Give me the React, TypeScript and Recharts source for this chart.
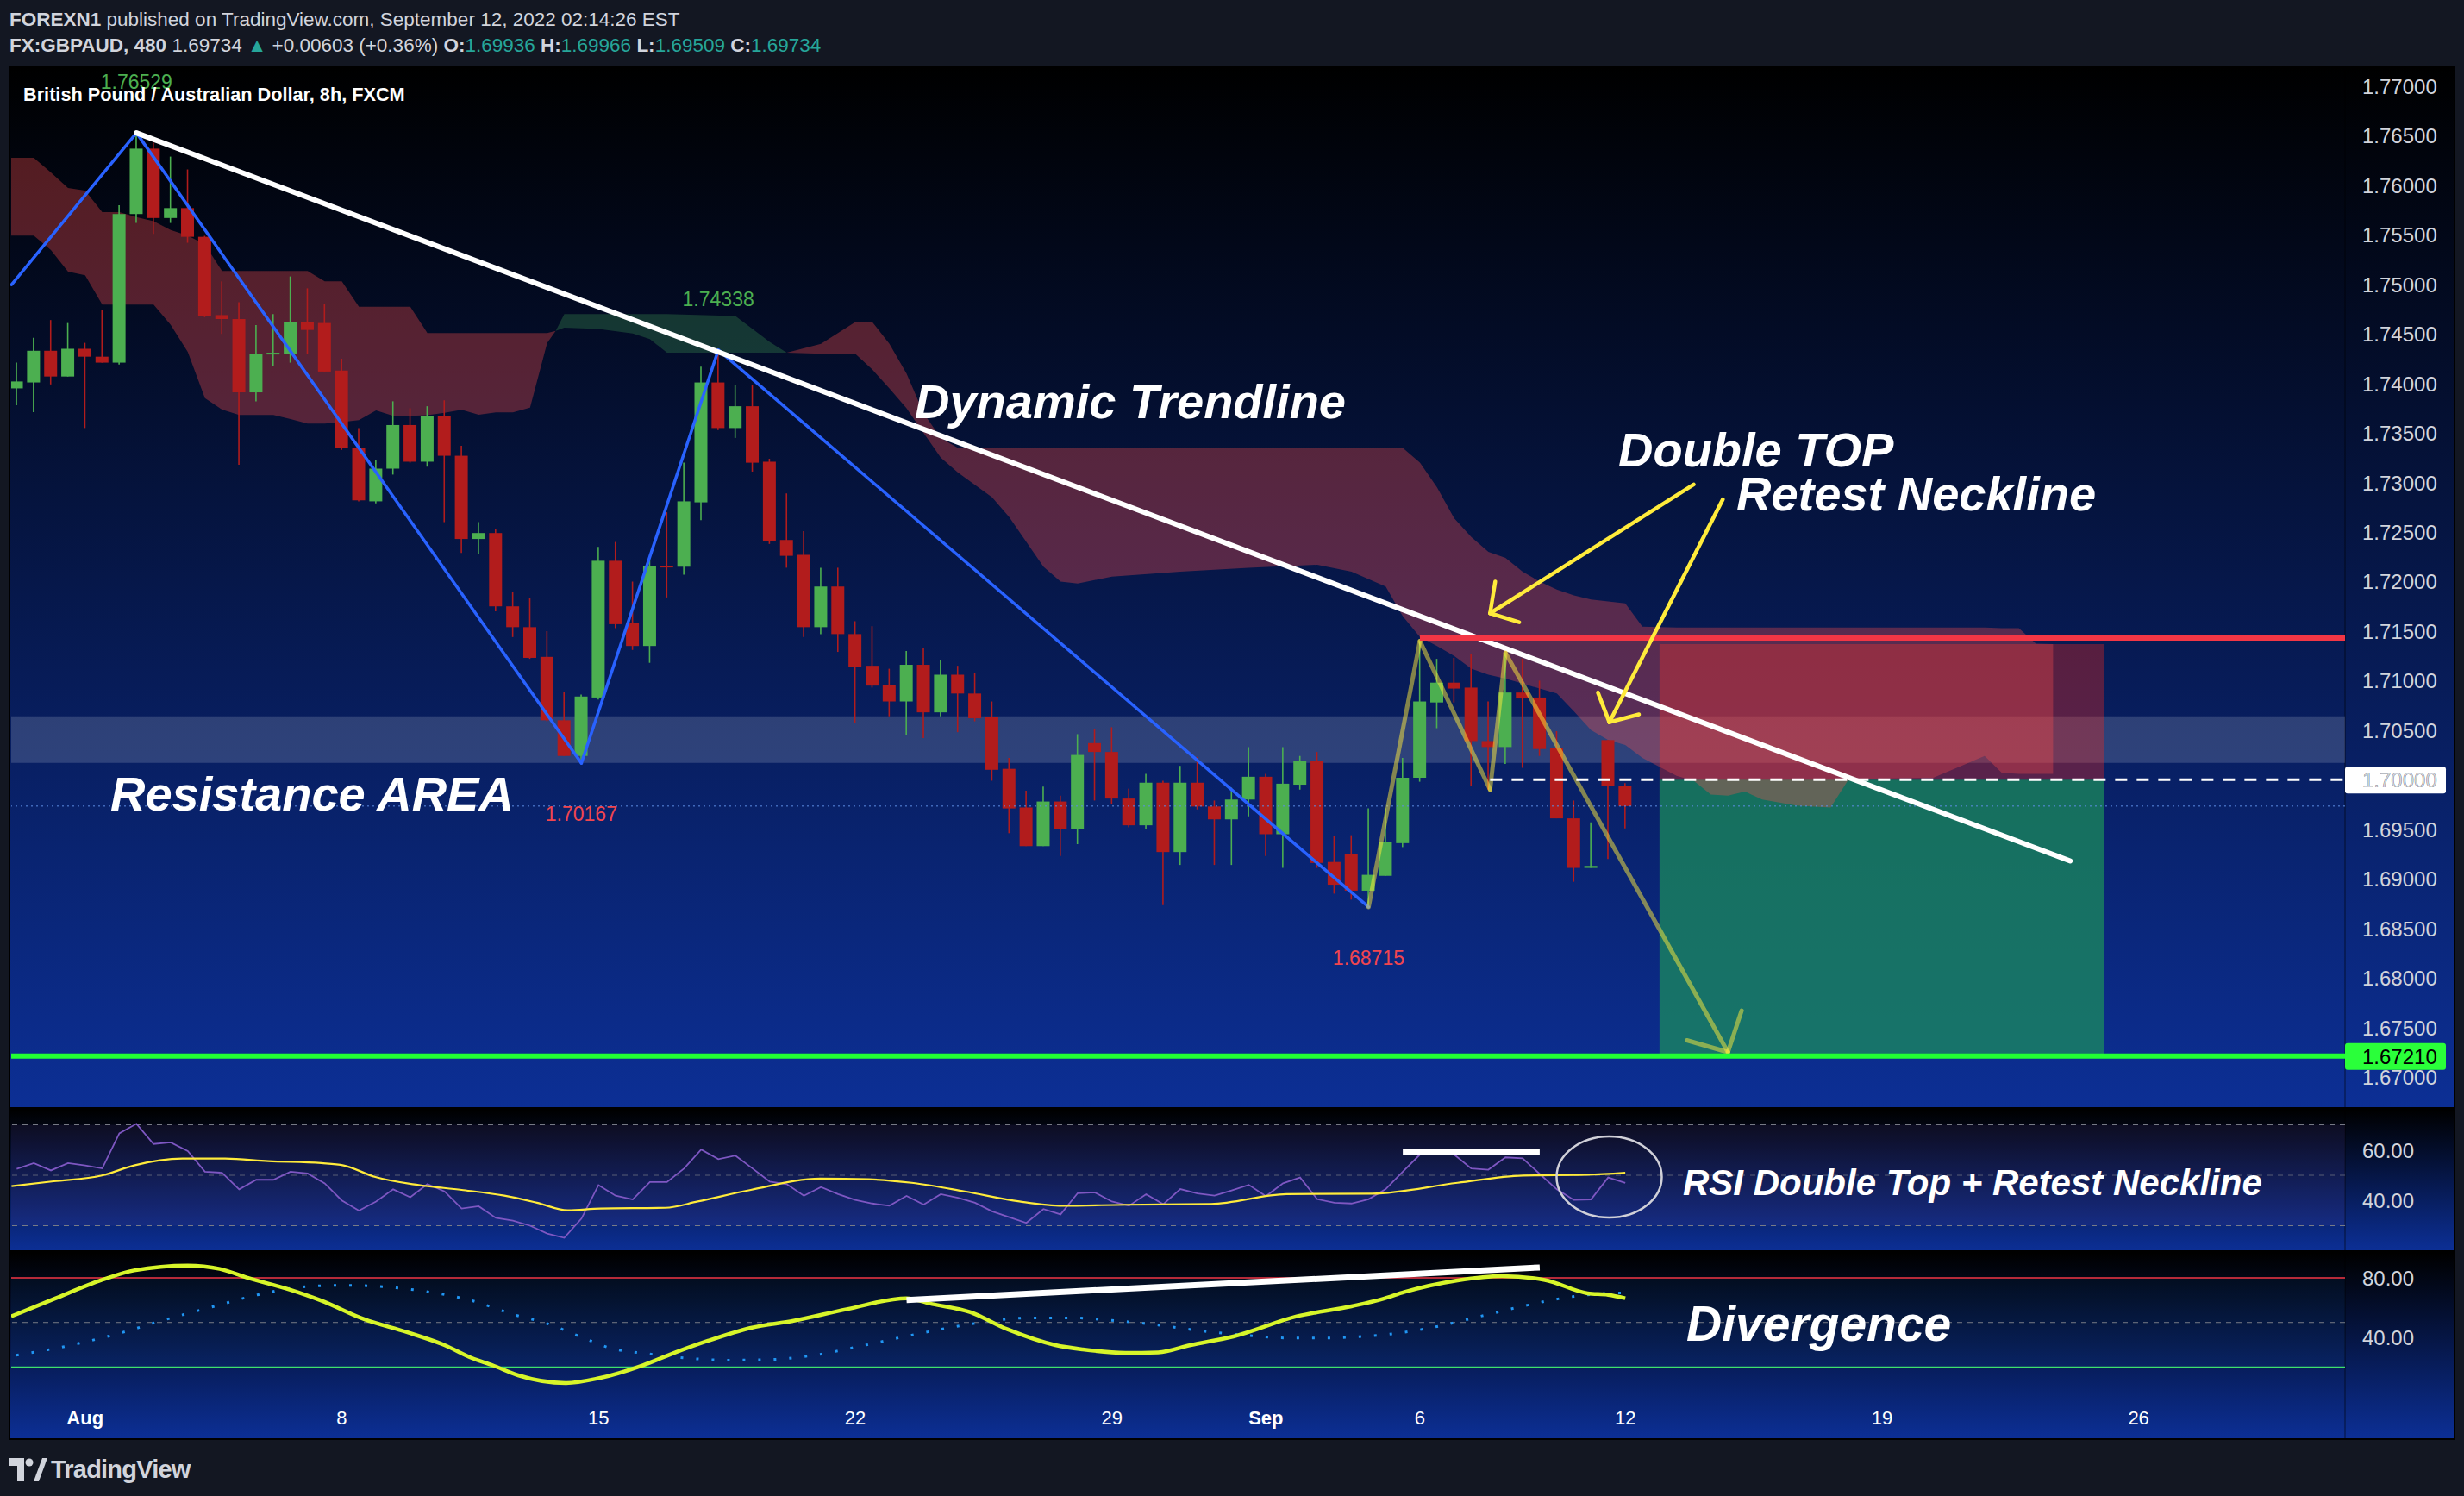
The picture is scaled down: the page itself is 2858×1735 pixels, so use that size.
import React from 'react';
import {
  Area,
  Bar,
  ComposedChart,
  Line,
  ReferenceArea,
  ReferenceDot,
  ReferenceLine,
  XAxis,
  YAxis
} from 'recharts';

// GBPAUD 8h, FXCM. x = bar index (0 = first bar of Aug 1), y = price.
const FIRST_BAR = -4;
const X_MIN = -4.32;
const X_MAX = 132.06;

const opens = [
  1.7395, 1.7401, 1.7433, 1.7407, 1.7435, 1.7427, 1.7421, 1.7571, 1.7637, 1.7567,
  1.7577, 1.7548, 1.7469, 1.7465, 1.7391, 1.743, 1.743, 1.7462, 1.7461, 1.7413,
  1.7335, 1.7281, 1.7314, 1.7358, 1.7321, 1.7367, 1.7327, 1.7243, 1.7249, 1.7175,
  1.7154, 1.7124, 1.706, 1.7024, 1.7083, 1.7221, 1.7158, 1.7135, 1.7216, 1.7215,
  1.728, 1.7401, 1.7355, 1.7377, 1.7321, 1.7242, 1.7227, 1.7154, 1.7195, 1.7147,
  1.7115, 1.7096, 1.7079, 1.7116, 1.7068, 1.7106, 1.7087, 1.7063, 1.7011, 1.6972,
  1.6933, 1.6978, 1.695, 1.7037, 1.7028, 1.6981, 1.6954, 1.6997, 1.6927, 1.6997,
  1.6973, 1.696, 1.698, 1.7003, 1.6945, 1.6995, 1.7019, 1.6917, 1.6925, 1.6888,
  1.6903, 1.6936, 1.7002, 1.7078, 1.7098, 1.7093, 1.7039, 1.7033, 1.7088, 1.7083,
  1.7032, 1.6961, 1.6911, 1.704, 1.69936
];
const highs = [
  1.7421, 1.7446, 1.7464, 1.7461, 1.7441, 1.7474, 1.758, 1.76529, 1.7643, 1.7629,
  1.7616, 1.7549, 1.7503, 1.7482, 1.7459, 1.747, 1.7508, 1.7496, 1.748, 1.7425,
  1.7355, 1.7323, 1.7382, 1.7375, 1.7377, 1.7383, 1.7337, 1.726, 1.7253, 1.719,
  1.7183, 1.715, 1.7089, 1.7086, 1.7235, 1.724, 1.72, 1.7222, 1.727, 1.732,
  1.7417, 1.74338, 1.7398, 1.7398, 1.7324, 1.7289, 1.7251, 1.7214, 1.7214, 1.716,
  1.7155, 1.7112, 1.713, 1.7133, 1.7121, 1.7115, 1.7108, 1.7079, 1.7022, 1.6989,
  1.6993, 1.6984, 1.7046, 1.7051, 1.7053, 1.6991, 1.7006, 1.6999, 1.7014, 1.7023,
  1.6979, 1.6992, 1.7033, 1.7006, 1.7033, 1.7024, 1.7028, 1.6943, 1.6944, 1.6971,
  1.6971, 1.7022, 1.714, 1.7122, 1.7123, 1.7127, 1.7079, 1.7128, 1.7122, 1.71,
  1.7049, 1.6979, 1.6957, 1.704, 1.69966
];
const lows = [
  1.7378, 1.7371, 1.7399, 1.7407, 1.7355, 1.7421, 1.7419, 1.7562, 1.7551, 1.7562,
  1.7542, 1.7467, 1.745, 1.7318, 1.7382, 1.7418, 1.7421, 1.743, 1.7411, 1.7333,
  1.7281, 1.7279, 1.7308, 1.732, 1.7316, 1.726, 1.7229, 1.7228, 1.717, 1.7144,
  1.7122, 1.7059, 1.7024, 1.70167, 1.7081, 1.7153, 1.7131, 1.7118, 1.7184, 1.7207,
  1.7262, 1.7353, 1.7345, 1.7311, 1.7238, 1.7214, 1.7144, 1.7147, 1.7129, 1.7057,
  1.7093, 1.7064, 1.7045, 1.7042, 1.7064, 1.7048, 1.7059, 1.6999, 1.6946, 1.6933,
  1.6933, 1.6923, 1.6935, 1.6979, 1.6975, 1.6952, 1.695, 1.68735, 1.6914, 1.697,
  1.6914, 1.6914, 1.6963, 1.6923, 1.6911, 1.699, 1.6911, 1.6885, 1.6879, 1.68715,
  1.6903, 1.6932, 1.6998, 1.7052, 1.7078, 1.6994, 1.699, 1.7016, 1.7012, 1.7024,
  1.6961, 1.6897, 1.6911, 1.692, 1.69509
];
const closes = [
  1.7402, 1.7433, 1.7407, 1.7435, 1.7427, 1.7421, 1.7571, 1.7637, 1.7567, 1.7577,
  1.7548, 1.7468, 1.7465, 1.7391, 1.743, 1.7431, 1.7462, 1.7454, 1.7412, 1.7335,
  1.7282, 1.7314, 1.7358, 1.7321, 1.7367, 1.7327, 1.7243, 1.7249, 1.7175, 1.7154,
  1.7123, 1.706, 1.7024, 1.7084, 1.7221, 1.7157, 1.7135, 1.7216, 1.7215, 1.7281,
  1.7401, 1.7355, 1.7377, 1.732, 1.7241, 1.7226, 1.7154, 1.7195, 1.7147, 1.7114,
  1.7095, 1.7079, 1.7116, 1.7068, 1.7106, 1.7087, 1.7062, 1.701, 1.6971, 1.6933,
  1.6978, 1.695, 1.7025, 1.7028, 1.6981, 1.6954, 1.6997, 1.6927, 1.6997, 1.6973,
  1.696, 1.698, 1.7003, 1.6945, 1.6996, 1.7019, 1.6916, 1.6894, 1.6888, 1.6904,
  1.6937, 1.7002, 1.7079, 1.7098, 1.7092, 1.7039, 1.7033, 1.7088, 1.7082, 1.7031,
  1.6961, 1.6911, 1.6913, 1.6994, 1.69734
];

// Ichimoku cloud: [bar, lower edge, upper edge]
const redCloudA = [
  [-4.32, 1.75492, 1.76278], [-3, 1.75492, 1.76278], [-2, 1.75347, 1.7613], [-1, 1.75129, 1.75973],
  [0, 1.75091, 1.75947], [1, 1.74795, 1.75729], [2, 1.74795, 1.75729], [3, 1.74795, 1.7568],
  [4, 1.74795, 1.75637], [5, 1.74592, 1.75549], [6, 1.74317, 1.75492], [7, 1.73852, 1.75404],
  [8, 1.73736, 1.75135], [9, 1.73681, 1.75135], [11, 1.73681, 1.75135], [12, 1.7364, 1.75135],
  [13, 1.73594, 1.75135], [14, 1.73594, 1.7503], [15, 1.7361, 1.7503], [16, 1.73629, 1.74775],
  [17, 1.73728, 1.74775], [18, 1.73673, 1.74775], [19, 1.73673, 1.74775], [20, 1.7368, 1.74508],
  [21, 1.73704, 1.74508], [22, 1.73735, 1.74508], [23, 1.73685, 1.74508], [24, 1.73708, 1.74508],
  [25, 1.73708, 1.74508], [26, 1.73755, 1.74508], [27, 1.74408, 1.74508], [27.5, 1.7453, 1.7453]
];
const greenCloud = [
  [27.5, 1.7453, 1.7453], [28, 1.74563, 1.747], [30, 1.7455, 1.747], [32, 1.74505, 1.747],
  [33, 1.74447, 1.747], [34, 1.74311, 1.747], [38, 1.74311, 1.7468], [39, 1.74311, 1.7455],
  [40, 1.74311, 1.7442], [41, 1.74311, 1.74311]
];
const redCloudB = [
  [41, 1.74311, 1.74311], [43, 1.743, 1.744], [45, 1.743, 1.7462], [46, 1.7414, 1.7462],
  [47, 1.7395, 1.744], [48, 1.7375, 1.741], [49, 1.735, 1.737], [50, 1.7325, 1.7345],
  [51, 1.731, 1.7335], [53, 1.7285, 1.7335], [54, 1.7265, 1.7335], [55, 1.724, 1.7335],
  [56, 1.7215, 1.7335], [57, 1.72, 1.7335], [58, 1.7198, 1.7335], [60, 1.7205, 1.7335],
  [64, 1.721, 1.7335], [68, 1.7214, 1.7335], [72, 1.7217, 1.7335], [74, 1.721, 1.7335],
  [76, 1.7195, 1.7335], [77, 1.7165, 1.7335], [78, 1.7144, 1.732], [79, 1.7135, 1.7295],
  [80, 1.7125, 1.7264], [81, 1.7112, 1.7245], [82, 1.7106, 1.723], [83, 1.7102, 1.7224],
  [84, 1.7097, 1.721], [85, 1.7092, 1.72], [86, 1.7087, 1.7192], [87, 1.7069, 1.7186],
  [88, 1.705, 1.7182], [89, 1.704, 1.718], [90, 1.7035, 1.7178], [91, 1.7022, 1.71545],
  [93, 1.7004, 1.71536], [94, 1.6999, 1.71536], [95, 1.6985, 1.71536], [96, 1.6984, 1.71536],
  [97, 1.6988, 1.71536], [98, 1.698, 1.71536], [100, 1.6974, 1.71536], [102, 1.6972, 1.71536],
  [103, 1.6999, 1.71536], [104, 1.7001, 1.71536], [108, 1.7002, 1.71536], [111, 1.7024, 1.71536],
  [112, 1.7007, 1.71529], [113, 1.7006, 1.71529], [114, 1.7006, 1.71374], [115, 1.7006, 1.7137]
];

// drawings: [bar, price]
const trendLine = [[3, 1.76529], [116, 1.6918]];
const zigzag = [[-4.3, 1.74998], [3, 1.76529], [29, 1.70167], [37, 1.74338], [75, 1.68715]];
const doubleTopPath = [[75, 1.68715], [78, 1.714], [82.1, 1.699], [83, 1.7128], [96, 1.6725]];
const doubleTopHead = [[93.6, 1.6737], [96, 1.6725], [96.8, 1.6767]];
const arrowTopShaft = [[94, 1.7298], [82.1, 1.7168]];
const arrowTopHead = [[82.4, 1.72], [82.1, 1.7168], [83.8, 1.7159]];
const arrowNeckShaft = [[95.7, 1.7283], [89.07, 1.7058]];
const arrowNeckHead = [[88.4, 1.7088], [89.07, 1.7058], [90.8, 1.7066]];
const pivotLabels = [
  { i: 3, p: 1.76529, text: '1.76529', up: true },
  { i: 37, p: 1.74338, text: '1.74338', up: true },
  { i: 29, p: 1.70167, text: '1.70167', up: false },
  { i: 75, p: 1.68715, text: '1.68715', up: false }
];
const resistanceBand = [1.7017, 1.7064];
const positionBars = [92, 118];
const stopLevel = 1.7143;
const stopBoxTop = 1.7137;
const entryLevel = 1.7;
const targetLevel = 1.6721;
const lastPrice = 1.69734;

const priceTicks = [
  1.67, 1.675, 1.68, 1.685, 1.69, 1.695, 1.7, 1.705, 1.71, 1.715, 1.72,
  1.725, 1.73, 1.735, 1.74, 1.745, 1.75, 1.755, 1.76, 1.765, 1.77
];
const timeTicks = [0, 15, 30, 45, 60, 69, 78, 90, 105, 120];
const timeLabels = ['Aug', '8', '15', '22', '29', 'Sep', '6', '12', '19', '26'];

// RSI(14) per bar + its moving average
const rsiValues = [
  52.5, 54.8, 51.9, 54.8, 53.9, 52.7, 66.6, 70.4, 62.4, 63.0, 59.6, 51.4, 51.0, 44.4, 48.2,
  48.2, 51.4, 50.7, 46.8, 40.0, 36.0, 39.6, 44.4, 41.3, 46.5, 43.6, 36.8, 37.7, 33.1, 32.0,
  30.0, 26.9, 25.2, 32.8, 46.1, 41.9, 40.4, 47.3, 47.3, 52.7, 60.2, 56.4, 57.8, 52.7, 47.5,
  46.5, 41.9, 45.3, 42.5, 40.2, 38.8, 37.9, 41.8, 38.4, 42.5, 41.1, 39.1, 35.7, 33.4, 31.1,
  36.6, 34.5, 42.9, 43.2, 39.6, 37.9, 42.5, 38.5, 44.5, 42.8, 41.9, 44.0, 46.2, 41.7, 46.8,
  49.1, 40.5, 39.1, 38.8, 40.5, 44.5, 51.4, 58.2, 58.4, 58.2, 52.7, 52.2, 57.1, 56.7, 50.5,
  44.4, 40.2, 40.4, 49.1, 47.0
];
const rsiMa = [
  [-4.3, 45.7], [-1.84, 47.6], [0.98, 49.9], [2.86, 53.9], [5.68, 56.6], [8.18, 56.6],
  [10.7, 55.6], [13.8, 54.8], [15.1, 53.9], [16.96, 49.3], [19.5, 46.1], [22.0, 44.2],
  [24.5, 41.9], [26.4, 39.1], [28.2, 36.1], [30.1, 36.8], [33.9, 37.1], [35.8, 39.6],
  [38.9, 44.2], [42.96, 48.7], [45.8, 48.4], [48.3, 47.0], [51.4, 43.6], [54.6, 39.6],
  [57.1, 37.9], [60.8, 38.3], [65.8, 38.6], [70.2, 42.5], [75.2, 42.7], [80.2, 47.0],
  [84.0, 49.9], [87.8, 50.2], [90, 51.0]
];
const rsiTopBar = [[77, 59.1], [85, 59.1]];
const rsiCircle = [89.06, 49.3];

// lower oscillator: main line and dotted signal
const oscMain = [
  [-4.32, 54.1], [-1.84, 65.7], [0.98, 78.6], [2.86, 85.0], [6.0, 88.3], [7.87, 86.0],
  [9.44, 80.2], [11.95, 72.1], [13.8, 64.7], [16.3, 52.2], [18.8, 43.5], [21.0, 34.8],
  [22.6, 26.1], [23.8, 21.3], [25.3, 14.5], [28.1, 9.3], [30, 12.5], [32.6, 21.3],
  [34.5, 29.9], [36.4, 37.7], [38.9, 46.4], [41.4, 51.2], [44.5, 58.9], [48.0, 66.3],
  [49.5, 62.4], [51.7, 57.0], [53.9, 45.4], [56.7, 34.8], [58.3, 31.9], [60.8, 29.6],
  [62.7, 29.9], [64.6, 34.8], [67.1, 40.6], [70.8, 54.1], [74.0, 60.9], [75.8, 65.7],
  [77.1, 70.5], [80.2, 78.3], [82.8, 81.2], [85.3, 78.6], [87.8, 69.6], [89.0, 68.6], [90, 66.3]
];
const oscSignal = [
  [-4.03, 28.0], [-1.21, 33.8], [1.92, 42.5], [5.05, 53.1], [7.56, 60.9], [10.07, 68.6],
  [13.2, 74.4], [15.1, 75.0], [16.96, 74.4], [20.1, 70.5], [22.6, 64.7], [25.1, 55.1],
  [27.0, 49.3], [28.9, 40.6], [30.7, 32.8], [32.9, 29.0], [35.1, 26.1], [37.6, 24.7],
  [40.1, 25.1], [42.6, 28.0], [45.2, 33.8], [48.3, 41.5], [51.4, 48.3], [55.2, 53.1],
  [57.7, 53.1], [60.2, 51.2], [62.7, 48.3], [65.2, 44.4], [67.7, 41.5], [70.2, 39.6],
  [72.7, 39.6], [74.6, 40.6], [76.5, 42.5], [79.0, 47.3], [81.5, 54.1], [84.0, 60.9],
  [86.5, 66.7], [89.0, 69.6], [90, 70.0]
];
const oscDivergence = [[48, 65.1], [85, 87.0]];

const UP = '#4caf50';
const DOWN = '#b21c1c';
const FONT = '"Liberation Sans", Arial, sans-serif';
const CHART_LEFT = 12;
const CHART_W = 2834;
const AXIS_W = 126;
const BODY_W = 15;

const candleRows = opens.map((o, k) => ({
  i: FIRST_BAR + k,
  open: o,
  high: highs[k],
  low: lows[k],
  close: closes[k],
  range: [lows[k], highs[k]]
}));
const cloudRows = (rows: number[][]) => rows.map(([i, lo, hi]) => ({ i, band: [lo, hi] }));
const pairRows = (rows: number[][]) => rows.map(([i, v]) => ({ i, v }));
const rsiRows = rsiValues.map((v, k) => ({ i: FIRST_BAR + k, v }));

function Candle(props: any) {
  const { x, y, width, height, payload } = props;
  if (!payload) return null;
  const { open, close, high, low } = payload;
  const color = close >= open ? UP : DOWN;
  const k = height / (high - low);
  const yo = y + (high - open) * k;
  const yc = y + (high - close) * k;
  const top = Math.min(yo, yc);
  const h = Math.max(Math.abs(yo - yc), 2);
  const cx = x + width / 2;
  return (
    <g>
      <line x1={cx} x2={cx} y1={y} y2={y + height} stroke={color} strokeWidth={1.6} />
      <rect x={cx - BODY_W / 2} y={top} width={BODY_W} height={h} fill={color} />
    </g>
  );
}

function segments(points: number[][], props: any, key: string) {
  return points.slice(1).map((pt, k) => (
    <ReferenceLine
      key={key + k}
      segment={[
        { x: points[k][0], y: points[k][1] },
        { x: pt[0], y: pt[1] }
      ]}
      ifOverflow="visible"
      strokeLinecap="round"
      {...props}
    />
  ));
}

const axisTick = (digits: number) => (p: any) => (
  <text x={p.x + 20} y={p.y} dy={9} fill="#d1d4dc" fontSize={24} fontFamily={FONT} textAnchor="start">
    {Number(p.payload.value).toFixed(digits)}
  </text>
);

function TimeTick(p: any) {
  const idx = timeTicks.indexOf(p.payload.value);
  const label = timeLabels[idx] ?? '';
  const bold = label === 'Aug' || label === 'Sep';
  return (
    <text x={p.x} y={p.y} dy={37} fill="#ffffff" fontSize={22} fontFamily={FONT} fontWeight={bold ? 700 : 400} textAnchor="middle">
      {label}
    </text>
  );
}

function priceTag(bg: string) {
  return (p: any) => (
    <g>
      <rect x={p.cx} y={p.cy - 15} width={117} height={31} rx={3} fill={bg} />
      <text x={p.cx + 20} y={p.cy} dy={9} fill="#000" fontSize={24} fontFamily={FONT}>
        {p.label}
      </text>
    </g>
  );
}

function Note({ x, cy, size, text }: { x: number; cy: number; size: number; text: string }) {
  return (
    <div
      style={{
        position: 'absolute',
        left: x,
        top: cy - size * 0.49,
        fontSize: size,
        lineHeight: 1,
        fontWeight: 700,
        fontStyle: 'italic',
        color: '#ffffff',
        whiteSpace: 'nowrap',
        fontFamily: FONT
      }}
    >
      {text}
    </div>
  );
}

const paneBg = 'linear-gradient(to bottom, #000000 0%, #0c2f95 100%)';

export default function App() {
  const teal = { color: '#26a69a' };
  return (
    <div
      style={{
        position: 'absolute',
        left: 0,
        top: 0,
        width: 2858,
        height: 1735,
        background: '#131722',
        overflow: 'hidden',
        fontFamily: FONT
      }}
    >
      <div style={{ position: 'absolute', left: 11, top: 10, fontSize: 22.5, lineHeight: '26px', color: '#d1d4dc', whiteSpace: 'nowrap' }}>
        <b>FOREXN1</b> published on TradingView.com, September 12, 2022 02:14:26 EST
      </div>
      <div style={{ position: 'absolute', left: 11, top: 40, fontSize: 22.5, lineHeight: '26px', color: '#d1d4dc', whiteSpace: 'nowrap' }}>
        <b>FX:GBPAUD, 480</b> 1.69734 <span style={teal}>▲</span> +0.00603 (+0.36%) <b>O:</b>
        <span style={teal}>1.69936</span> <b>H:</b>
        <span style={teal}>1.69966</span> <b>L:</b>
        <span style={teal}>1.69509</span> <b>C:</b>
        <span style={teal}>1.69734</span>
      </div>

      <div style={{ position: 'absolute', left: 10, top: 76, width: 2838, height: 1594, background: '#000' }} />
      <div style={{ position: 'absolute', left: 12, top: 78, width: 2834, height: 1206, background: paneBg }} />
      <div style={{ position: 'absolute', left: 12, top: 1287, width: 2834, height: 163, background: paneBg }} />
      <div style={{ position: 'absolute', left: 12, top: 1453, width: 2834, height: 215, background: paneBg }} />
      <div style={{ position: 'absolute', left: 2719, top: 78, width: 2, height: 1590, background: 'rgba(0,0,0,0.3)' }} />

      {/* price pane */}
      <div style={{ position: 'absolute', left: CHART_LEFT, top: 78 }}>
        <ComposedChart width={CHART_W} height={1206} data={candleRows} margin={{ top: 0, right: 0, bottom: 0, left: 1 }}>
          <XAxis dataKey="i" type="number" domain={[X_MIN, X_MAX]} allowDataOverflow hide />
          <YAxis
            orientation="right"
            type="number"
            domain={[1.666953, 1.771915]}
            allowDataOverflow
            ticks={priceTicks}
            width={AXIS_W}
            axisLine={false}
            tickLine={false}
            tickSize={0}
            tickMargin={0}
            interval={0}
            tick={axisTick(5)}
          />
          <ReferenceArea y1={resistanceBand[0]} y2={resistanceBand[1]} fill="#ffffff" fillOpacity={0.155} stroke="none" ifOverflow="visible" />
          <ReferenceArea x1={positionBars[0]} x2={positionBars[1]} y1={targetLevel} y2={entryLevel} fill="#1e965a" fillOpacity={0.67} stroke="none" />
          <ReferenceArea x1={positionBars[0]} x2={positionBars[1]} y1={entryLevel} y2={stopBoxTop} fill="#f0281e" fillOpacity={0.35} stroke="none" />
          <Area data={cloudRows(redCloudA)} dataKey="band" type="linear" stroke="none" fill="#ff4e4c" fillOpacity={0.33} isAnimationActive={false} />
          <Area data={cloudRows(greenCloud)} dataKey="band" type="linear" stroke="none" fill="#3c8c50" fillOpacity={0.34} isAnimationActive={false} />
          <Area data={cloudRows(redCloudB)} dataKey="band" type="linear" stroke="none" fill="#ff4e4c" fillOpacity={0.33} isAnimationActive={false} />
          <ReferenceLine y={lastPrice} stroke="#5d8ee6" strokeDasharray="2 4" strokeWidth={1} />
          <Bar dataKey="range" shape={Candle} barSize={15} isAnimationActive={false} />
          {segments(zigzag, { stroke: '#2962ff', strokeWidth: 3.5 }, 'zz')}
          {segments(trendLine, { stroke: '#ffffff', strokeWidth: 6 }, 'tl')}
          {segments(doubleTopPath, { stroke: '#ffeb3b', strokeOpacity: 0.5, strokeWidth: 5 }, 'dt')}
          {segments(doubleTopHead, { stroke: '#ffeb3b', strokeOpacity: 0.5, strokeWidth: 5 }, 'dh')}
          {segments([[78, stopLevel], [X_MAX, stopLevel]], { stroke: '#f23645', strokeWidth: 6, strokeLinecap: 'butt' }, 'sl')}
          {segments([[X_MIN, targetLevel], [X_MAX, targetLevel]], { stroke: '#22ff33', strokeWidth: 6, strokeLinecap: 'butt' }, 'tg')}
          {segments([[82.1, entryLevel], [X_MAX, entryLevel]], { stroke: '#ffffff', strokeWidth: 3, strokeDasharray: '14 11', strokeLinecap: 'butt' }, 'en')}
          {segments(arrowTopShaft, { stroke: '#ffeb3b', strokeWidth: 4.5 }, 'a1')}
          {segments(arrowTopHead, { stroke: '#ffeb3b', strokeWidth: 4.5 }, 'a1h')}
          {segments(arrowNeckShaft, { stroke: '#ffeb3b', strokeWidth: 4.5 }, 'a2')}
          {segments(arrowNeckHead, { stroke: '#ffeb3b', strokeWidth: 4.5 }, 'a2h')}
          {pivotLabels.map((l) => (
            <ReferenceDot
              key={l.text}
              x={l.i}
              y={l.p}
              r={0}
              ifOverflow="visible"
              shape={(p: any) => (
                <text
                  x={p.cx}
                  y={p.cy + (l.up ? -59 : 59)}
                  dy={8}
                  textAnchor="middle"
                  fontSize={23}
                  fontFamily={FONT}
                  fill={l.up ? '#4caf50' : '#f0454f'}
                >
                  {l.text}
                </text>
              )}
            />
          ))}
          <ReferenceDot x={X_MAX} y={entryLevel} r={0} ifOverflow="visible" shape={(p: any) => priceTag('#ffffff')({ ...p, label: '1.70000' })} />
          <ReferenceDot x={X_MAX} y={targetLevel} r={0} ifOverflow="visible" shape={(p: any) => priceTag('#2aff3a')({ ...p, label: '1.67210' })} />
        </ComposedChart>
      </div>

      {/* RSI pane */}
      <div style={{ position: 'absolute', left: CHART_LEFT, top: 1287 }}>
        <ComposedChart width={CHART_W} height={163} data={rsiRows} margin={{ top: 0, right: 0, bottom: 0, left: 1 }}>
          <XAxis dataKey="i" type="number" domain={[X_MIN, X_MAX]} allowDataOverflow hide />
          <YAxis
            orientation="right"
            type="number"
            domain={[20.26, 75.98]}
            allowDataOverflow
            ticks={[40, 60]}
            width={AXIS_W}
            axisLine={false}
            tickLine={false}
            tickSize={0}
            tickMargin={0}
            tick={axisTick(2)}
          />
          <ReferenceArea y1={30} y2={70} fill="#7e57c2" fillOpacity={0.1} stroke="none" />
          <ReferenceLine y={70} stroke="#787b86" strokeDasharray="6 6" />
          <ReferenceLine y={50} stroke="#787b86" strokeDasharray="6 6" strokeOpacity={0.7} />
          <ReferenceLine y={30} stroke="#787b86" strokeDasharray="6 6" />
          <Line dataKey="v" type="linear" stroke="#7e57c2" strokeWidth={1.8} dot={false} isAnimationActive={false} />
          <Line data={pairRows(rsiMa)} dataKey="v" type="monotone" stroke="#ffeb3b" strokeWidth={2.2} dot={false} isAnimationActive={false} />
          {segments(rsiTopBar, { stroke: '#ffffff', strokeWidth: 7, strokeLinecap: 'butt' }, 'rb')}
          <ReferenceDot
            x={rsiCircle[0]}
            y={rsiCircle[1]}
            r={0}
            ifOverflow="visible"
            shape={(p: any) => <ellipse cx={p.cx} cy={p.cy} rx={61} ry={47} fill="none" stroke="#d0d0d8" strokeWidth={2.5} />}
          />
        </ComposedChart>
      </div>

      {/* oscillator pane + time axis */}
      <div style={{ position: 'absolute', left: CHART_LEFT, top: 1453 }}>
        <ComposedChart width={CHART_W} height={215} data={pairRows(oscMain)} margin={{ top: 0, right: 0, bottom: 0, left: 1 }}>
          <XAxis
            dataKey="i"
            type="number"
            domain={[X_MIN, X_MAX]}
            allowDataOverflow
            ticks={timeTicks}
            interval={0}
            height={53}
            axisLine={false}
            tickLine={false}
            tickSize={0}
            tickMargin={0}
            tick={TimeTick}
          />
          <YAxis
            orientation="right"
            type="number"
            domain={[2.9, 96.81]}
            allowDataOverflow
            ticks={[40, 80]}
            width={AXIS_W}
            axisLine={false}
            tickLine={false}
            tickSize={0}
            tickMargin={0}
            tick={axisTick(2)}
          />
          <ReferenceArea y1={20} y2={80} fill="#1e88e5" fillOpacity={0.06} stroke="none" />
          <ReferenceLine y={80} stroke="#f23645" strokeWidth={1.5} />
          <ReferenceLine y={50} stroke="#787b86" strokeDasharray="6 6" />
          <ReferenceLine y={20} stroke="#3ee06c" strokeWidth={1.5} />
          <Line data={pairRows(oscSignal)} dataKey="v" type="monotone" stroke="#2196f3" strokeWidth={3} strokeDasharray="3 15" dot={false} isAnimationActive={false} />
          <Line dataKey="v" type="monotone" stroke="#d7f52a" strokeWidth={4.5} dot={false} isAnimationActive={false} />
          {segments(oscDivergence, { stroke: '#ffffff', strokeWidth: 7, strokeLinecap: 'butt' }, 'dv')}
        </ComposedChart>
      </div>

      {/* hand-written chart notes */}
      <div style={{ position: 'absolute', left: 27, top: 97, fontSize: 21.7, lineHeight: '25px', color: '#ffffff', fontWeight: 700, whiteSpace: 'nowrap' }}>
        British Pound / Australian Dollar, 8h, FXCM
      </div>
      <Note x={1061} cy={465} size={56} text="Dynamic Trendline" />
      <Note x={1877} cy={521} size={56} text="Double TOP" />
      <Note x={2014} cy={572} size={56} text="Retest Neckline" />
      <Note x={128} cy={920} size={56} text="Resistance AREA" />
      <Note x={1952} cy={1372} size={42} text="RSI Double Top + Retest Neckline" />
      <Note x={1956} cy={1535} size={57} text="Divergence" />

      {/* TradingView logo */}
      <svg style={{ position: 'absolute', left: 11, top: 1691 }} width={44} height={27} viewBox="0 0 44 27">
        <path d="M0 0 H17 V27 H9 V9 H0 Z" fill="#d1d4dc" />
        <circle cx={23} cy={5} r={4.5} fill="#d1d4dc" />
        <path d="M28 27 L38 0 H44 L34 27 Z" fill="#d1d4dc" />
      </svg>
      <div style={{ position: 'absolute', left: 59, top: 1688, fontSize: 29, lineHeight: '32px', color: '#d1d4dc', fontWeight: 700, letterSpacing: -0.8, whiteSpace: 'nowrap' }}>
        TradingView
      </div>
    </div>
  );
}
